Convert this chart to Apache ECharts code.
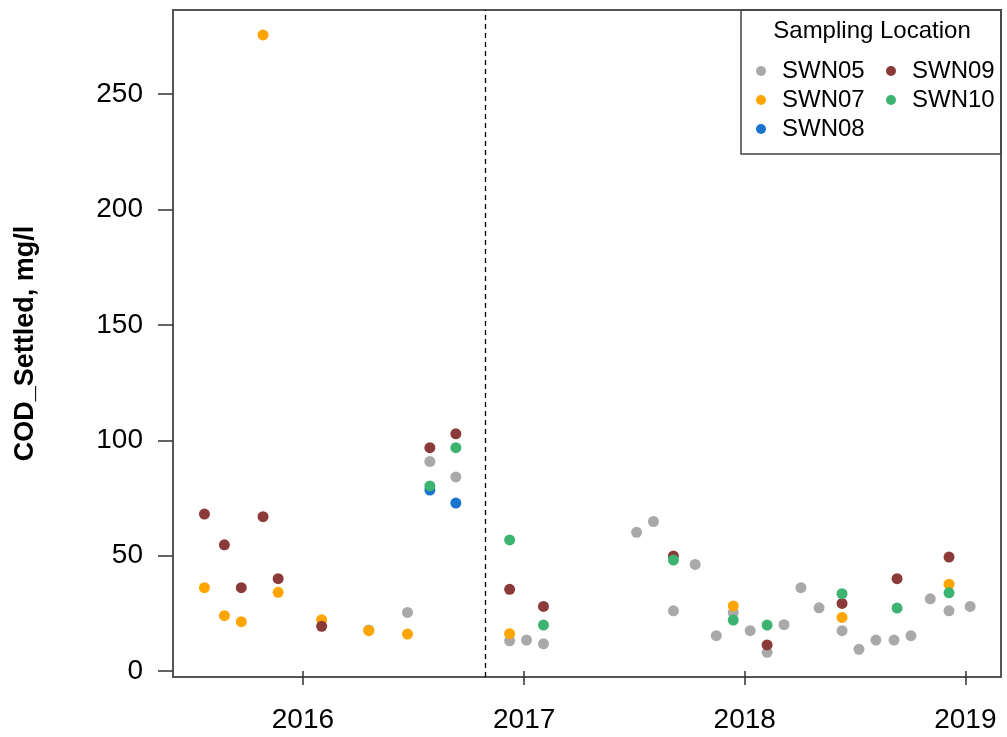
<!DOCTYPE html>
<html>
<head>
<meta charset="utf-8">
<script src="https://cdn.jsdelivr.net/npm/echarts@6/dist/echarts.min.js"></script>
<style>html,body{margin:0;padding:0;background:#fff;}#c{width:1007px;height:737px;}</style>
</head>
<body>
<div id="c"></div>
<script>
// Data (date, value) per sampling location
const swn05 = [
  ['2016-04-19', 17.8], ['2016-06-22', 25.4], ['2016-07-29', 90.8], ['2016-09-10', 84.1],
  ['2016-12-08', 13.1], ['2017-01-05', 13.4], ['2017-02-02', 11.8], ['2017-07-06', 60.1],
  ['2017-08-03', 64.8], ['2017-09-05', 26.1], ['2017-10-11', 46.2], ['2017-11-15', 15.3],
  ['2017-12-13', 25.3], ['2018-01-10', 17.5], ['2018-02-07', 8.1], ['2018-03-07', 20.1],
  ['2018-04-04', 36.1], ['2018-05-04', 27.4], ['2018-06-11', 17.5], ['2018-07-09', 9.4],
  ['2018-08-06', 13.4], ['2018-09-05', 13.4], ['2018-10-03', 15.3], ['2018-11-04', 31.3],
  ['2018-12-05', 26.1], ['2019-01-09', 28.0]
];
const swn07 = [
  ['2015-07-22', 36.1], ['2015-08-24', 24.0], ['2015-09-21', 21.4], ['2015-10-27', 275.7],
  ['2015-11-21', 34.1], ['2016-02-01', 22.2], ['2016-04-19', 17.5], ['2016-06-22', 16.0],
  ['2016-12-08', 16.2], ['2017-12-13', 28.2], ['2018-06-11', 23.2], ['2018-12-05', 37.6]
];
const swn08 = [
  ['2016-07-29', 78.4], ['2016-09-10', 72.8]
];
const swn09 = [
  ['2015-07-22', 68.0], ['2015-08-24', 54.7], ['2015-09-21', 36.1], ['2015-10-27', 66.9],
  ['2015-11-21', 40.0], ['2016-02-01', 19.4], ['2016-07-29', 96.8], ['2016-09-10', 102.8],
  ['2016-12-08', 35.4], ['2017-02-02', 28.0], ['2017-09-05', 49.8], ['2018-02-07', 11.3],
  ['2018-06-11', 29.3], ['2018-09-10', 40.0], ['2018-12-05', 49.4]
];
const swn10 = [
  ['2016-07-29', 80.2], ['2016-09-10', 96.8], ['2016-12-08', 56.8], ['2017-02-02', 19.9],
  ['2017-09-05', 48.1], ['2017-12-13', 22.1], ['2018-02-07', 19.9], ['2018-06-11', 33.5],
  ['2018-09-10', 27.3], ['2018-12-05', 33.9]
];
const locations = ['SWN05', 'SWN07', 'SWN08', 'SWN09', 'SWN10'];
const seriesData = [swn05, swn07, swn08, swn09, swn10];
const colors = ['#A9A9A9', '#FFA500', '#1874CD', '#8B3A3A', '#3CB371'];
const yTicks = [0, 50, 100, 150, 200, 250];
const xTicks = ['2016-01-01', '2017-01-01', '2018-01-01', '2019-01-01'];
const xRange = ['2015-05-31', '2019-03-01'];
const dividerDate = '2016-10-28';

const FONT = 'Liberation Sans, Arial, sans-serif';
const ts = d => Date.parse(d + 'T00:00:00Z');
const chart = echarts.init(document.getElementById('c'));

const series = locations.map((name, i) => {
  const s = {
    name: name,
    type: 'scatter',
    data: seriesData[i].map(p => [ts(p[0]), p[1]]),
    symbol: 'circle',
    symbolSize: 11,
    itemStyle: { color: colors[i], opacity: 1 },
    emphasis: { disabled: true },
    animation: false
  };
  if (i === 0) {
    s.markLine = {
      silent: true,
      symbol: ['none', 'none'],
      label: { show: false },
      lineStyle: { color: '#000', type: [5, 4], width: 1.3 },
      data: [{ xAxis: ts(dividerDate) }],
      animation: false
    };
  }
  return s;
});

const xTickVals = xTicks.map(ts);
const legendText = { fontSize: 24, lineHeight: 24, color: '#000', fontFamily: FONT };

chart.setOption({
  animation: false,
  backgroundColor: '#fff',
  grid: {
    left: 173, right: 6, top: 10, bottom: 60,
    show: true, borderColor: '#555', borderWidth: 2, backgroundColor: 'transparent'
  },
  xAxis: {
    type: 'value',
    min: ts(xRange[0]),
    max: ts(xRange[1]),
    axisLine: { show: false },
    splitLine: { show: false },
    axisTick: { show: true, inside: false, length: 14, lineStyle: { color: '#333', width: 1.5 }, customValues: xTickVals },
    axisLabel: {
      customValues: xTickVals,
      margin: 29,
      fontSize: 28,
      color: '#000',
      fontFamily: FONT,
      formatter: function (v) { return String(new Date(v).getUTCFullYear()); }
    }
  },
  yAxis: {
    type: 'value',
    min: -2.6,
    max: 286.5,
    name: 'COD_Settled, mg/l',
    nameLocation: 'middle',
    nameGap: 134,
    nameRotate: 90,
    nameTextStyle: { fontSize: 27, fontWeight: 'bold', color: '#000', fontFamily: FONT },
    axisLine: { show: false },
    splitLine: { show: false },
    axisTick: { show: true, inside: false, length: 15, lineStyle: { color: '#333', width: 1.5 }, customValues: yTicks },
    axisLabel: { customValues: yTicks, margin: 30, fontSize: 28, color: '#000', fontFamily: FONT }
  },
  legend: [
    {
      data: locations.slice(0, 3),
      orient: 'vertical',
      left: 751, top: 54,
      itemWidth: 32, itemHeight: 10, itemGap: 5,
      icon: 'circle', selectedMode: false,
      textStyle: legendText
    },
    {
      data: locations.slice(3),
      orient: 'vertical',
      left: 881, top: 54,
      itemWidth: 32, itemHeight: 10, itemGap: 5,
      icon: 'circle', selectedMode: false,
      textStyle: legendText
    }
  ],
  graphic: [
    {
      type: 'rect',
      shape: { x: 741, y: 10, width: 260, height: 144 },
      style: { fill: 'none', stroke: '#444', lineWidth: 1.5 },
      silent: true
    },
    {
      type: 'text',
      x: 872, y: 31,
      style: { text: 'Sampling Location', font: '24px ' + FONT, fill: '#000', textAlign: 'center', textVerticalAlign: 'middle' },
      silent: true
    }
  ],
  series: series
});
</script>
</body>
</html>
